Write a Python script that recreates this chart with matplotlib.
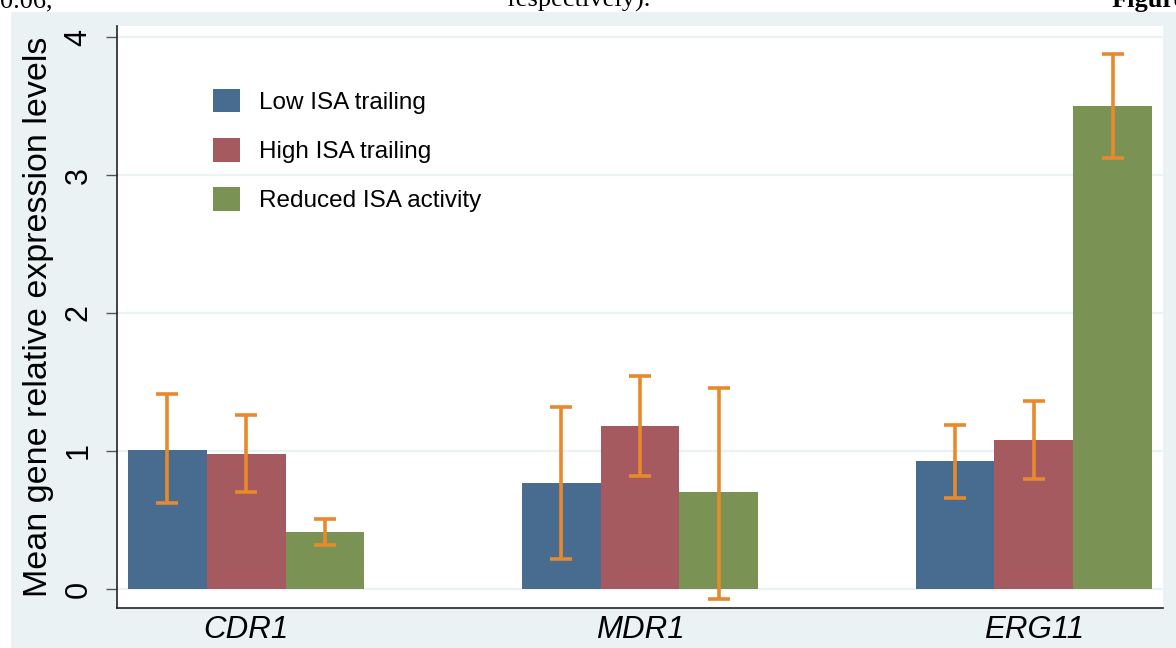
import matplotlib.pyplot as plt
import numpy as np
from matplotlib.patches import Rectangle

plt.rcParams['font.family'] = ['Liberation Sans', 'DejaVu Sans']

# Datos
genes = ['CDR1', 'MDR1', 'ERG11']
grupos = ['Low ISA trailing', 'High ISA trailing', 'Reduced ISA activity']
medias = [
    [1.01, 0.77, 0.93],
    [0.98, 1.18, 1.08],
    [0.41, 0.70, 3.50],
]
err_bajo = [
    [0.62, 0.22, 0.66],
    [0.70, 0.82, 0.80],
    [0.32, -0.07, 3.12],
]
err_alto = [
    [1.41, 1.32, 1.19],
    [1.26, 1.54, 1.36],
    [0.51, 1.46, 3.88],
]
colores = ['#476c8f', '#a55a60', '#7a9253']
fondo = '#eaf2f3'

W, H = 1176, 648
fig = plt.figure(figsize=(W / 100, H / 100), dpi=100, facecolor='white')

# Texto del artículo cortado arriba
fig.text(0 / W, 1 - 7 / H, '0.06,', family='Liberation Serif', fontsize=19,
         va='baseline', zorder=0.5)
fig.text(508 / W, 1 - 7 / H, 'respectively).', family='Liberation Serif',
         fontsize=19, va='baseline', zorder=0.5)
fig.text(1112 / W, 1 - 7 / H, 'Figure', family='Liberation Serif',
         fontsize=19, fontweight='bold', va='baseline', zorder=0.5)

# Región gris del gráfico
fig.patches.append(Rectangle((11 / W, 0), 1 - 11 / W, 1 - 12 / H,
                             transform=fig.transFigure, facecolor=fondo,
                             edgecolor='none', zorder=1))

ax = fig.add_axes([117 / W, 1 - 608 / H, (1163 - 117) / W, (608 - 26) / H])
ax.set_zorder(2)
ax.set_facecolor('white')

x = np.arange(len(genes))
ancho = 0.2
for i in range(3):
    pos = x + (i - 1) * ancho
    ax.bar(pos, medias[i], width=ancho, color=colores[i], label=grupos[i],
           zorder=2)
    m = np.array(medias[i])
    yerr = [m - np.array(err_bajo[i]), np.array(err_alto[i]) - m]
    ax.errorbar(pos, m, yerr=yerr, fmt='none', ecolor='#e8892c',
                elinewidth=2.6, capsize=8, capthick=2.6, zorder=3)

ax.set_xlim(-0.328, 2.328)
ax.set_ylim(-0.138, 4.08)
ax.set_yticks([0, 1, 2, 3, 4])
ax.set_yticklabels(['0', '1', '2', '3', '4'], rotation=90, va='center',
                   fontsize=22)
ax.set_xticks(x)
ax.set_xticklabels(genes, fontsize=22.5, style='italic')
ax.tick_params(axis='x', length=0, pad=5)
ax.tick_params(axis='y', length=8, width=1, color='#555555', pad=9)
ax.grid(axis='y', color=fondo, linewidth=1.6, zorder=0)
ax.set_axisbelow(True)

for s in ['top', 'right']:
    ax.spines[s].set_visible(False)
for s in ['left', 'bottom']:
    ax.spines[s].set_color('#222222')
    ax.spines[s].set_linewidth(1.2)

ax.set_ylabel('Mean gene relative expression levels', fontsize=24.5,
              labelpad=7)

ax.legend(loc='upper left', bbox_to_anchor=(213 / W, 1 - 89 / H),
          bbox_transform=fig.transFigure, frameon=False, fontsize=17.5,
          handlelength=1.1, handleheight=1.1, handletextpad=0.8,
          labelspacing=1.0, borderpad=0, borderaxespad=0)

fig.savefig('out.png', dpi=100, facecolor='white')
